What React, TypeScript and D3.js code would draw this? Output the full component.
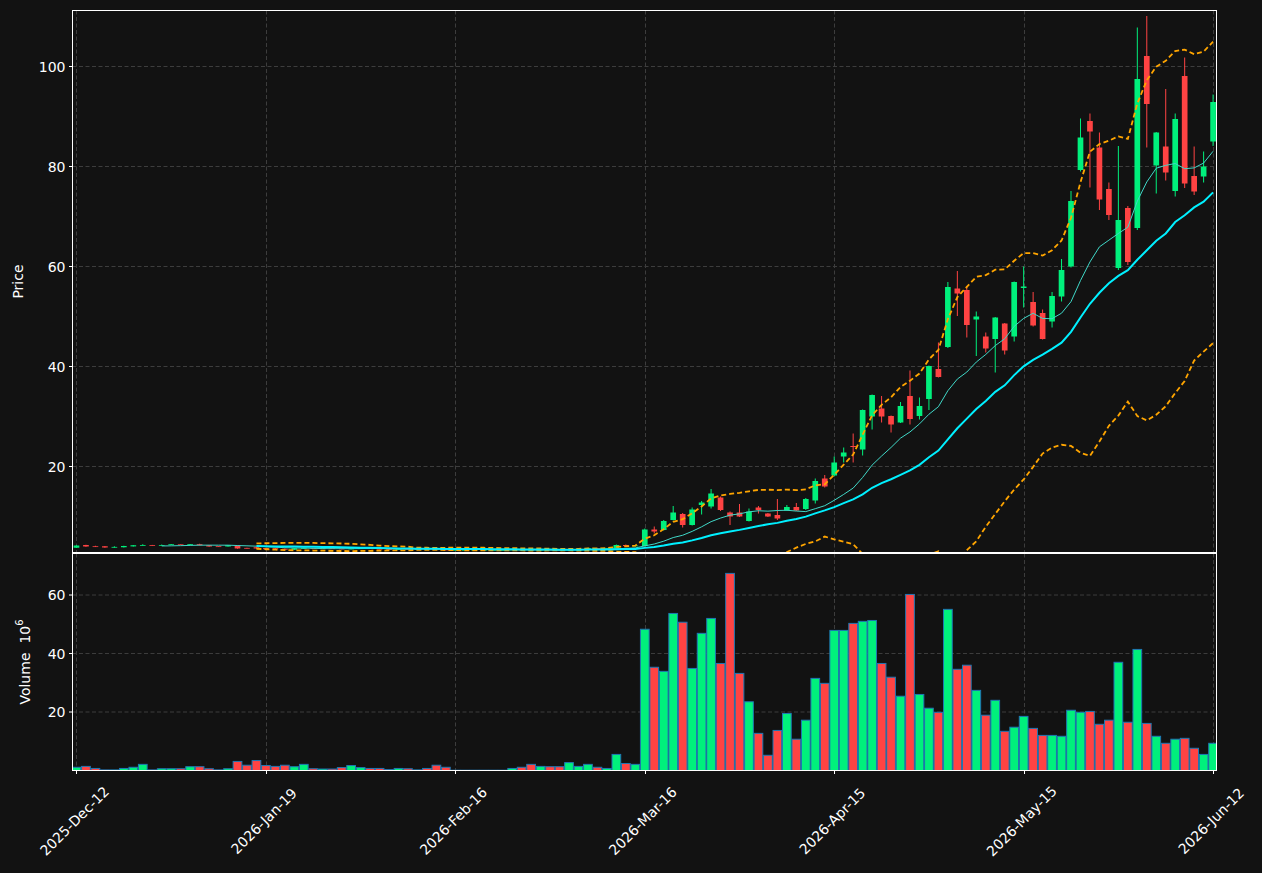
import React, { useRef, useEffect } from 'react';
import * as d3 from 'd3';

// tick labels every 20 sessions
const tickLabels = ['2025-Dec-12', '2026-Jan-19', '2026-Feb-16', '2026-Mar-16', '2026-Apr-15', '2026-May-15', '2026-Jun-12'];
const tickIndex = [0, 20, 40, 60, 80, 100, 120];

const opens = [
  3.65, 4.2, 3.95, 3.95, 3.72, 3.75, 3.92, 4.12, 4.2, 4.15,
  4.2, 4.33, 4.25, 4.35, 4.15, 3.95, 3.9, 4.1, 3.62, 3.75,
  3.6, 3.55, 3.45, 3.25, 3.45, 3.6, 3.5, 3.55, 3.5, 3.38,
  3.45, 3.55, 3.45, 3.38, 3.36, 3.42, 3.38, 3.4, 3.35, 3.28,
  3.22, 3.22, 3.22, 3.22, 3.22, 3.22, 3.22, 3.3, 3.25, 3.15,
  3.28, 3.22, 3.15, 3.35, 3.45, 3.6, 3.5, 3.6, 4.2, 3.95,
  4.0, 7.3, 7.2, 9.2, 10.4, 8.2, 12.2, 11.9, 13.7, 10.7,
  10.7, 9.0, 11.7, 10.5, 10.2, 11.1, 11.8, 11.4, 13.1, 17.5,
  18.1, 21.9, 24.0, 23.3, 29.9, 31.5, 30.0, 28.7, 34.0, 30.0,
  33.4, 39.4, 43.8, 55.5, 55.2, 49.3, 45.9, 45.4, 48.5, 45.9,
  55.6, 52.8, 50.6, 48.9, 53.9, 59.9, 79.2, 89.0, 83.7, 75.4,
  59.6, 71.6, 67.6, 102.0, 80.1, 83.9, 75.0, 98.0, 78.0, 77.9,
  84.9,
];
const highs = [
  4.15, 4.25, 4.05, 4.0, 3.95, 4.05, 4.2, 4.35, 4.22, 4.3,
  4.4, 4.35, 4.4, 4.45, 4.2, 4.0, 4.2, 4.12, 3.65, 3.8,
  3.65, 3.6, 3.5, 3.6, 3.7, 3.62, 3.6, 3.58, 3.52, 3.55,
  3.6, 3.58, 3.48, 3.4, 3.45, 3.44, 3.4, 3.42, 3.37, 3.3,
  3.23, 3.23, 3.23, 3.23, 3.23, 3.23, 3.32, 3.32, 3.28, 3.3,
  3.3, 3.25, 3.4, 3.5, 3.65, 3.62, 3.62, 4.3, 4.3, 4.2,
  7.5, 7.9, 9.2, 12.0, 10.6, 11.7, 13.0, 15.4, 13.9, 10.9,
  12.4, 11.5, 12.0, 10.6, 13.4, 12.2, 12.6, 13.6, 17.5, 18.2,
  21.9, 23.7, 26.5, 31.3, 34.3, 34.0, 30.1, 32.8, 39.1, 33.7,
  40.1, 44.7, 56.8, 59.0, 56.0, 50.9, 46.7, 49.8, 48.6, 56.9,
  59.9, 54.8, 51.3, 54.8, 61.4, 75.0, 89.5, 90.5, 86.7, 76.7,
  84.0, 72.0, 107.7, 110.0, 86.8, 95.4, 90.5, 101.7, 83.9, 82.9,
  94.3,
];
const lows = [
  3.6, 3.85, 3.8, 3.65, 3.65, 3.7, 3.9, 4.1, 4.1, 4.1,
  4.18, 4.25, 4.2, 4.1, 3.85, 3.88, 3.88, 3.45, 3.5, 3.45,
  3.3, 3.3, 3.2, 3.2, 3.4, 3.5, 3.45, 3.45, 3.35, 3.35,
  3.42, 3.4, 3.35, 3.35, 3.34, 3.35, 3.36, 3.3, 3.2, 3.2,
  3.21, 3.21, 3.21, 3.21, 3.21, 3.21, 3.2, 3.2, 3.1, 3.12,
  3.18, 3.12, 3.12, 3.3, 3.4, 3.45, 3.48, 3.55, 3.9, 3.9,
  3.9, 6.5, 7.1, 9.1, 7.7, 8.1, 10.3, 11.5, 11.0, 8.2,
  9.8, 8.9, 10.5, 9.8, 9.2, 11.0, 11.0, 11.2, 12.5, 15.7,
  17.9, 20.7, 20.7, 22.1, 27.3, 28.7, 26.7, 28.6, 28.3, 29.3,
  31.2, 37.7, 43.6, 50.0, 45.7, 42.0, 42.7, 38.7, 42.3, 44.9,
  51.7, 47.9, 45.3, 47.7, 52.9, 59.7, 78.9, 75.7, 71.2, 69.2,
  59.2, 60.2, 67.2, 83.7, 74.5, 77.1, 73.9, 75.6, 74.2, 76.7,
  84.0,
];
const closes = [
  4.1, 3.9, 3.88, 3.7, 3.82, 4.0, 4.15, 4.2, 4.12, 4.2,
  4.35, 4.28, 4.36, 4.15, 3.9, 3.92, 4.15, 3.5, 3.55, 3.5,
  3.35, 3.35, 3.25, 3.55, 3.65, 3.52, 3.55, 3.48, 3.4, 3.5,
  3.55, 3.45, 3.38, 3.37, 3.42, 3.38, 3.38, 3.33, 3.25, 3.22,
  3.22, 3.22, 3.22, 3.22, 3.22, 3.22, 3.3, 3.22, 3.15, 3.28,
  3.2, 3.15, 3.35, 3.45, 3.6, 3.5, 3.58, 4.2, 4.0, 4.1,
  7.3, 6.9, 9.0, 10.7, 8.2, 11.3, 12.7, 14.5, 11.2, 9.9,
  9.9, 10.9, 11.2, 9.9, 9.5, 11.8, 11.1, 13.4, 17.0, 15.9,
  20.7, 22.7, 23.8, 31.2, 34.2, 29.9, 28.3, 32.0, 29.4, 32.0,
  40.0, 37.8, 55.8, 54.5, 48.2, 49.9, 43.5, 49.7, 43.1, 56.8,
  55.9, 48.1, 45.4, 54.0, 59.2, 73.0, 85.7, 86.9, 73.3, 70.2,
  69.2, 60.8, 97.4, 92.4, 86.7, 78.7, 89.4, 76.5, 74.9, 79.9,
  92.8,
];
// volume in millions
const volumes = [
  1.1, 1.4, 0.7, 0.2, 0.2, 0.7, 1.1, 2.1, 0.2, 0.6,
  0.6, 0.6, 1.3, 1.3, 0.6, 0.2, 0.6, 3.1, 1.8, 3.4,
  1.7, 1.4, 1.8, 1.3, 2.1, 0.6, 0.5, 0.5, 1.0, 1.7,
  1.0, 0.7, 0.7, 0.3, 0.7, 0.6, 0.2, 0.7, 1.8, 1.1,
  0.1, 0.1, 0.1, 0.1, 0.1, 0.1, 0.7, 1.1, 2.1, 1.4,
  1.3, 1.3, 2.7, 1.4, 2.1, 1.1, 0.7, 5.5, 2.4, 2.1,
  48.3, 35.3, 33.9, 53.7, 50.7, 34.9, 46.9, 52.0, 36.6, 67.4,
  33.2, 23.5, 12.7, 5.2, 13.7, 19.5, 10.7, 17.2, 31.5, 29.8,
  47.9, 47.9, 50.3, 51.0, 51.3, 36.6, 31.9, 25.4, 60.2, 26.0,
  21.3, 19.9, 55.1, 34.6, 36.0, 27.4, 18.9, 24.0, 13.4, 14.8,
  18.5, 14.4, 12.0, 12.0, 11.7, 20.6, 19.9, 20.2, 15.8, 17.2,
  37.0, 16.5, 41.4, 16.1, 11.7, 9.3, 10.7, 11.0, 7.6, 5.5,
  9.3,
];
const priceTicks = [20, 40, 60, 80, 100];
const volumeTicks = [20, 40, 60];

const UP = '#00f07c';
const DOWN = '#ff4343';
const BG = '#121212';
const FONT = 'DejaVu Sans, sans-serif';

// rolling helpers (same as the indicator overlay of the source chart)
const rollingMean = (vals: number[], n: number) =>
  vals.map((_, i) => (i < n - 1 ? null : d3.mean(vals.slice(i - n + 1, i + 1)) as number));
const rollingStd = (vals: number[], n: number) =>
  vals.map((_, i) => (i < n - 1 ? null : d3.deviation(vals.slice(i - n + 1, i + 1)) as number));

const App: React.FC = () => {
  const svgRef = useRef<SVGSVGElement>(null);
  const width = 1262;
  const height = 873;

  useEffect(() => {
    if (!svgRef.current) return;
    document.body.style.margin = '0';
    const svg = d3.select(svgRef.current);
    svg.selectAll('*').remove();

    const left = 72.5, right = 1216.5;
    const pTop = 10.5, pBottom = 552.5;
    const vTop = 553.5, vBottom = 770.5;

    const n = closes.length;
    const x = d3.scaleLinear().domain([-0.42, n - 1 + 0.36]).range([left, right]);
    const step = x(1) - x(0);
    const yP = d3.scaleLinear().domain([2.8, 111.2]).range([552, 10]);
    const yV = d3.scaleLinear().domain([0, 74.2]).range([vBottom, vTop]);

    svg.append('rect').attr('width', width).attr('height', height).attr('fill', BG);

    const defs = svg.append('defs');
    defs.append('clipPath').attr('id', 'clip-price')
      .append('rect').attr('x', left).attr('y', pTop).attr('width', right - left).attr('height', pBottom - pTop);
    defs.append('clipPath').attr('id', 'clip-vol')
      .append('rect').attr('x', left).attr('y', vTop).attr('width', right - left).attr('height', vBottom - vTop);

    const gridColor = '#3d3d3d';
    // grids
    const grid = svg.append('g').attr('stroke', gridColor).attr('stroke-width', 1).attr('stroke-dasharray', '4,2.5');
    tickIndex.forEach(t => {
      const gx = Math.round(x(t)) + 0.5;
      grid.append('line').attr('x1', gx).attr('x2', gx).attr('y1', pTop).attr('y2', pBottom);
      grid.append('line').attr('x1', gx).attr('x2', gx).attr('y1', vTop).attr('y2', vBottom);
    });
    priceTicks.forEach(t => {
      grid.append('line').attr('x1', left).attr('x2', right).attr('y1', yP(t) + 0.5).attr('y2', yP(t) + 0.5);
    });
    volumeTicks.forEach(t => {
      grid.append('line').attr('x1', left).attr('x2', right).attr('y1', yV(t)).attr('y2', yV(t));
    });

    const idx = d3.range(n);
    const isUp = (i: number) => closes[i] >= opens[i];

    // candles
    const cg = svg.append('g').attr('clip-path', 'url(#clip-price)');
    const bodyW = step * 0.6;
    idx.forEach(i => {
      const col = isUp(i) ? UP : DOWN;
      cg.append('line')
        .attr('x1', x(i)).attr('x2', x(i))
        .attr('y1', yP(highs[i])).attr('y2', yP(lows[i]))
        .attr('stroke', col).attr('stroke-width', 1);
      const y0 = yP(Math.max(opens[i], closes[i]));
      const y1 = yP(Math.min(opens[i], closes[i]));
      cg.append('rect')
        .attr('x', x(i) - bodyW / 2).attr('width', bodyW)
        .attr('y', y0).attr('height', Math.max(0.8, y1 - y0))
        .attr('fill', col);
    });

    // moving averages and bands
    const ma10 = rollingMean(closes, 10);
    const ma20 = rollingMean(closes, 20);
    const sd20 = rollingStd(closes, 20);
    const upper = ma20.map((m, i) => (m == null ? null : m + 2 * (sd20[i] as number)));
    const lower = ma20.map((m, i) => (m == null ? null : m - 2 * (sd20[i] as number)));

    const line = d3.line<number | null>()
      .defined(d => d != null)
      .x((_, i) => x(i))
      .y(d => yP(d as number));

    cg.append('path').datum(upper).attr('d', line).attr('fill', 'none')
      .attr('stroke', '#ffa500').attr('stroke-width', 1.8).attr('stroke-dasharray', '5,3');
    cg.append('path').datum(lower).attr('d', line).attr('fill', 'none')
      .attr('stroke', '#ffa500').attr('stroke-width', 1.8).attr('stroke-dasharray', '5,3');
    cg.append('path').datum(ma10).attr('d', line).attr('fill', 'none')
      .attr('stroke', '#40d8c8').attr('stroke-width', 1);
    cg.append('path').datum(ma20).attr('d', line).attr('fill', 'none')
      .attr('stroke', '#00f0ff').attr('stroke-width', 2);

    // volume bars
    const vg = svg.append('g').attr('clip-path', 'url(#clip-vol)');
    const barW = step * 0.92;
    idx.forEach(i => {
      vg.append('rect')
        .attr('x', x(i) - barW / 2).attr('width', barW)
        .attr('y', yV(volumes[i])).attr('height', Math.max(0, yV(0) - yV(volumes[i])))
        .attr('fill', isUp(i) ? UP : DOWN)
        .attr('stroke', '#1f77b4').attr('stroke-width', 1);
    });

    // frames
    const frame = svg.append('g').attr('fill', 'none').attr('stroke', '#ffffff').attr('stroke-width', 1);
    frame.append('rect').attr('x', left).attr('y', pTop).attr('width', right - left).attr('height', pBottom - pTop);
    frame.append('rect').attr('x', left).attr('y', vTop).attr('width', right - left).attr('height', vBottom - vTop);

    // axes ticks and labels
    const axisG = svg.append('g').attr('font-family', FONT).attr('font-size', 14).attr('fill', '#ffffff');
    priceTicks.forEach(t => {
      const ty = yP(t) + 0.5;
      axisG.append('line').attr('x1', left - 3.5).attr('x2', left).attr('y1', ty).attr('y2', ty).attr('stroke', '#fff');
      axisG.append('text').attr('x', left - 7).attr('y', ty).attr('text-anchor', 'end')
        .attr('dominant-baseline', 'central').text(t);
    });
    volumeTicks.forEach(t => {
      axisG.append('line').attr('x1', left - 3.5).attr('x2', left).attr('y1', yV(t)).attr('y2', yV(t)).attr('stroke', '#fff');
      axisG.append('text').attr('x', left - 7).attr('y', yV(t)).attr('text-anchor', 'end')
        .attr('dominant-baseline', 'central').text(t);
    });
    tickIndex.forEach((t, k) => {
      const gx = Math.round(x(t)) + 0.5;
      axisG.append('line').attr('x1', gx).attr('x2', gx).attr('y1', vBottom).attr('y2', vBottom + 3.5).attr('stroke', '#fff');
      axisG.append('text')
        .attr('transform', `translate(${x(t) - 2},${821}) rotate(-45)`)
        .attr('text-anchor', 'middle').attr('dominant-baseline', 'central')
        .text(tickLabels[k]);
    });

    axisG.append('text')
      .attr('transform', `translate(18,${(pTop + pBottom) / 2}) rotate(-90)`)
      .attr('text-anchor', 'middle').attr('dominant-baseline', 'central')
      .text('Price');
    const vl = axisG.append('text')
      .attr('transform', `translate(25,${(vTop + vBottom) / 2}) rotate(-90)`)
      .attr('text-anchor', 'middle').attr('dominant-baseline', 'central')
      .style('white-space', 'pre');
    vl.append('tspan').text('Volume\u00a0\u00a010');
    vl.append('tspan').attr('font-size', 10).attr('dy', -6).text('6');
  }, []);

  return (
    <svg
      ref={svgRef}
      width={width}
      height={height}
      style={{ display: 'block', position: 'absolute', left: 0, top: 0 }}
    />
  );
};

export default App;
